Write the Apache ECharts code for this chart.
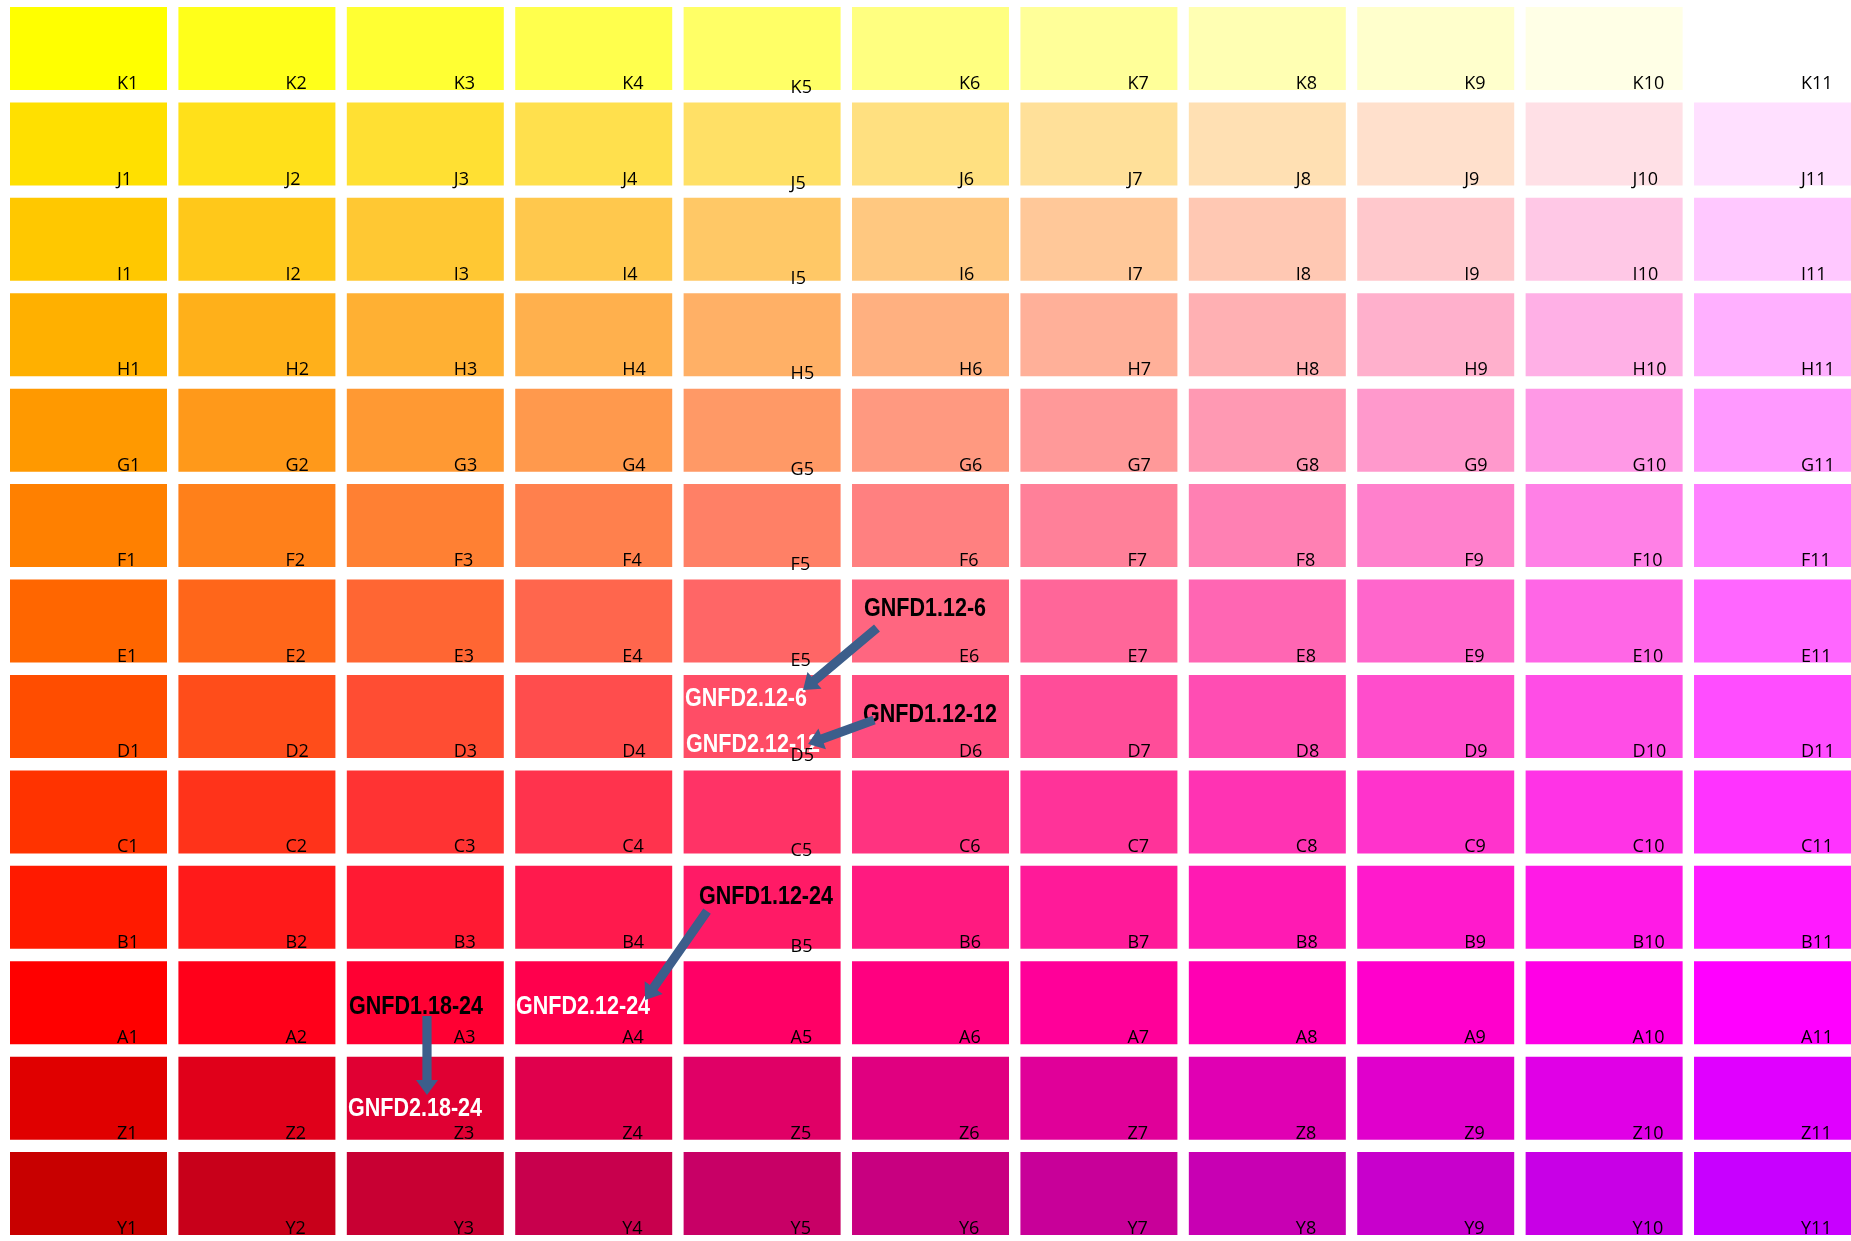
<!DOCTYPE html>
<html>
<head>
<meta charset="utf-8">
<script src="https://cdn.jsdelivr.net/npm/echarts@6/dist/echarts.min.js"></script>
<style>
html,body{margin:0;padding:0;background:#ffffff;}
#main{width:1851px;height:1241px;}
</style>
</head>
<body>
<div id="main"></div>
<script>
// ---- data ----
const rowNames = ['K','J','I','H','G','F','E','D','C','B','A','Z','Y'];
const columnNumbers = [1,2,3,4,5,6,7,8,9,10,11];

const rowK = ['#FFFF00','#FFFF1A','#FFFF33','#FFFF4D','#FFFF66','#FFFF80','#FFFF99','#FFFFB3','#FFFFCC','#FFFFE6','#FFFFFF'];
const rowJ = ['#FFE000','#FFE01A','#FFE033','#FFE04D','#FFE066','#FFE080','#FFE099','#FFE0B3','#FFE0CC','#FFE0E6','#FFE0FF'];
const rowI = ['#FFC800','#FFC81A','#FFC833','#FFC84D','#FFC866','#FFC880','#FFC899','#FFC8B3','#FFC8CC','#FFC8E6','#FFC8FF'];
const rowH = ['#FFB000','#FFB01A','#FFB033','#FFB04D','#FFB066','#FFB080','#FFB099','#FFB0B3','#FFB0CC','#FFB0E6','#FFB0FF'];
const rowG = ['#FF9900','#FF991A','#FF9933','#FF994D','#FF9966','#FF9980','#FF9999','#FF99B3','#FF99CC','#FF99E6','#FF99FF'];
const rowF = ['#FF8000','#FF801A','#FF8033','#FF804D','#FF8066','#FF8080','#FF8099','#FF80B3','#FF80CC','#FF80E6','#FF80FF'];
const rowE = ['#FF6600','#FF661A','#FF6633','#FF664D','#FF6666','#FF6680','#FF6699','#FF66B3','#FF66CC','#FF66E6','#FF66FF'];
const rowD = ['#FF4D00','#FF4D1A','#FF4D33','#FF4D4D','#FF4D66','#FF4D80','#FF4D99','#FF4DB3','#FF4DCC','#FF4DE6','#FF4DFF'];
const rowC = ['#FF3300','#FF331A','#FF3333','#FF334D','#FF3366','#FF3380','#FF3399','#FF33B3','#FF33CC','#FF33E6','#FF33FF'];
const rowB = ['#FF1A00','#FF1A1A','#FF1A33','#FF1A4D','#FF1A66','#FF1A80','#FF1A99','#FF1AB3','#FF1ACC','#FF1AE6','#FF1AFF'];
const rowA = ['#FF0000','#FF001A','#FF0033','#FF004D','#FF0066','#FF0080','#FF0099','#FF00B3','#FF00CC','#FF00E6','#FF00FF'];
const rowZ = ['#E00000','#E0001A','#E00033','#E0004D','#E00066','#E00080','#E00099','#E000B3','#E000CC','#E000E6','#E000FF'];
const rowY = ['#C80000','#C8001A','#C80033','#C8004D','#C80066','#C80080','#C80099','#C800B3','#C800CC','#C800E6','#C800FF'];
const cellColors = [rowK,rowJ,rowI,rowH,rowG,rowF,rowE,rowD,rowC,rowB,rowA,rowZ,rowY];

// annotation texts and their anchors (column / row units)
const noteTexts   = ['GNFD1.12-6','GNFD2.12-6','GNFD1.12-12','GNFD2.12-12','GNFD1.12-24','GNFD2.12-24','GNFD1.18-24','GNFD2.18-24'];
const noteAnchors = [[5.605,6.958],[4.542,7.901],[5.599,8.069],[4.548,8.383],[4.625,9.976],[3.539,11.129],[2.547,11.129],[2.541,12.198]];
// arrows: from -> to (column / row units)
const arrowFrom = [[5.682,7.073],[5.665,8.037],[4.673,10.039],[3.010,11.139]];
const arrowTo   = [[5.243,7.723],[5.273,8.289],[4.305,10.971],[3.010,11.967]];

// ---- build ----
const cellData = [];
rowNames.forEach((rn, ri) => {
  columnNumbers.forEach((cn, ci) => {
    cellData.push([cn, ri + 1, cellColors[ri][ci], rn + cn]);
  });
});
const noteData = noteTexts.map((t, i) => [noteAnchors[i][0], noteAnchors[i][1], i]);
const arrowData = arrowFrom.map((f, i) => [f[0], f[1], arrowTo[i][0], arrowTo[i][1]]);

const CELL_W = 157 / 168.4, CELL_H = 83 / 95.42;
const LABEL_FONT = 18;
const NOTE_FONT = 26;

function cellRect(api) {
  const p = api.coord([api.value(0), api.value(1)]);
  const u = api.size([1, 1]);
  const w = u[0] * CELL_W, h = u[1] * CELL_H;
  return {x: p[0] - w / 2, y: p[1] - h / 2, w: w, h: h};
}

const chart = echarts.init(document.getElementById('main'), null, {renderer: 'canvas'});
chart.setOption({
  animation: false,
  backgroundColor: '#ffffff',
  grid: {left: 4.3, top: 0.79, right: 0, bottom: 0, containLabel: false},
  xAxis: {type: 'value', min: 0.5, max: 11.466, show: false},
  yAxis: {type: 'value', min: 0.5, max: 13.497, inverse: true, show: false},
  series: [
    {
      type: 'custom', z: 1, clip: false,
      data: cellData,
      renderItem: function (params, api) {
        const r = cellRect(api);
        const d = cellData[params.dataIndex];
        return {type: 'rect', shape: {x: r.x, y: r.y, width: r.w, height: r.h}, style: {fill: d[2]}};
      }
    },
    {
      type: 'custom', z: 2, clip: false,
      data: noteData,
      renderItem: function (params, api) {
        const p = api.coord([api.value(0), api.value(1)]);
        const t = noteTexts[params.dataIndex];
        const dark = t.indexOf('GNFD1') === 0;
        return {
          type: 'text', x: p[0], y: p[1] - NOTE_FONT * 0.31, scaleX: 0.828, scaleY: 1,
          style: {
            text: t, fill: dark ? '#000000' : '#ffffff',
            font: 'bold ' + NOTE_FONT + 'px "Liberation Sans", Arial, sans-serif',
            align: 'left', verticalAlign: 'middle'
          }
        };
      }
    },
    {
      type: 'custom', z: 3, clip: false,
      data: cellData,
      renderItem: function (params, api) {
        const r = cellRect(api);
        const d = cellData[params.dataIndex];
        const drop = (d[0] === 5 && d[1] <= 10) ? 4 : 0;
        const baseline = r.y + r.h - 1 + drop;
        return {
          type: 'text', x: r.x + 107, y: baseline - LABEL_FONT * 0.28,
          style: {
            text: d[3], fill: '#000000',
            font: LABEL_FONT + 'px "Open Sans", sans-serif',
            align: 'left', verticalAlign: 'middle'
          }
        };
      }
    },
    {
      type: 'custom', z: 4, clip: false,
      data: arrowData,
      renderItem: function (params, api) {
        const a = api.coord([api.value(0), api.value(1)]);
        const b = api.coord([api.value(2), api.value(3)]);
        const dx = b[0] - a[0], dy = b[1] - a[1];
        const len = Math.sqrt(dx * dx + dy * dy);
        const ux = dx / len, uy = dy / len, nx = -uy, ny = ux;
        const headLen = 15, sh = 4.6, hh = 11;
        const bx = b[0] - ux * headLen, by = b[1] - uy * headLen;
        const pts = [
          [a[0] + nx * sh, a[1] + ny * sh],
          [bx + nx * sh, by + ny * sh],
          [bx + nx * hh, by + ny * hh],
          [b[0], b[1]],
          [bx - nx * hh, by - ny * hh],
          [bx - nx * sh, by - ny * sh],
          [a[0] - nx * sh, a[1] - ny * sh]
        ];
        return {type: 'polygon', shape: {points: pts}, style: {fill: '#3C5E8B'}};
      }
    }
  ]
});
</script>
</body>
</html>
